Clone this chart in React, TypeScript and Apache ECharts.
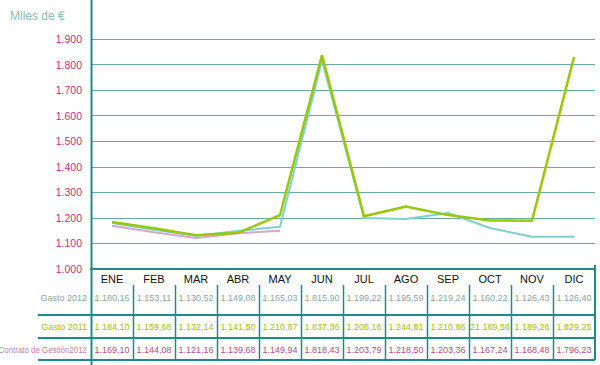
import React, { useEffect, useRef } from "react";
import * as echarts from "echarts";

const months = ["ENE", "FEB", "MAR", "ABR", "MAY", "JUN", "JUL", "AGO", "SEP", "OCT", "NOV", "DIC"];
const gasto2012 = [1180.16, 1153.11, 1130.52, 1149.08, 1165.03, 1815.9, 1199.22, 1195.59, 1219.24, 1160.22, 1126.43, 1126.4];
const gasto2011 = [1184.1, 1159.68, 1132.14, 1141.5, 1210.87, 1837.36, 1206.16, 1244.81, 1210.86, 1189.56, 1189.26, 1829.25];
const contrato2012 = [1169.1, 1144.08, 1121.16, 1139.68, 1149.94, 1818.43, 1203.79, 1218.5, 1203.36, 1167.24, 1168.48, 1796.23];
// the drawn contract line stops at MAY in the reference
const contratoPlottedMonths = 5;
// label overrides as printed in the reference table
const gasto2011LabelOverrides: Record<number, string> = { 9: "21.189,56" };
const rowNames = ["Gasto 2012", "Gasto 2011", "Contrato de Gestión2012"];
const yMin = 1000;
const yMax = 1900;
const yStep = 100;

const fmtNum = (v: number, dec: number) => {
  const s = v.toFixed(dec);
  const [i, d] = s.split(".");
  const int = i.replace(/\B(?=(\d{3})+(?!\d))/g, ".");
  return d ? int + "," + d : int;
};

export default function App() {
  const ref = useRef<HTMLDivElement>(null);
  useEffect(() => {
    if (!ref.current) return;
    const chart = echarts.init(ref.current, null, { renderer: "svg" });
    const W = 600;
    const left = 91;
    const right = 595;
    const colW = (right - left) / months.length;
    const axisCol = "#1f8a88";
    const gridCol = "#6ba8a6";
    const rowColors = ["#8aa6a4", "#a6c012", "#b0507e"];
    const labelColors = ["#8aa6a4", "#a6c012", "#c27fa6"];
    const rowY = [298, 327, 350];
    const rows = [
      gasto2012.map((v) => fmtNum(v, 2)),
      gasto2011.map((v, i) => gasto2011LabelOverrides[i] ?? fmtNum(v, 2)),
      contrato2012.map((v) => fmtNum(v, 2)),
    ];
    const font = "'Liberation Sans', Arial, sans-serif";
    const graphics: any[] = [];
    graphics.push({
      type: "text",
      left: 10,
      top: 10,
      style: { text: "Miles de €", fill: "#8fbcb5", font: "12px " + font },
    });
    // vertical axis line through the table
    graphics.push({ type: "line", shape: { x1: left + 0.5, y1: 0, x2: left + 0.5, y2: 365 }, style: { stroke: axisCol, lineWidth: 2 }, z: 10 });
    // right border of table
    graphics.push({ type: "line", shape: { x1: right, y1: 265, x2: right, y2: 360 }, style: { stroke: axisCol, lineWidth: 2 } });
    // horizontal table lines
    [315, 338, 360].forEach((y) => {
      graphics.push({ type: "line", shape: { x1: 38, y1: y, x2: right, y2: y }, style: { stroke: axisCol, lineWidth: 2 } });
    });
    // column separators
    for (let k = 1; k < months.length; k++) {
      const x = Math.round(left + colW * k) + 0.5;
      graphics.push({ type: "line", shape: { x1: x, y1: 285, x2: x, y2: 360 }, style: { stroke: axisCol, lineWidth: 1.5 } });
    }
    rowNames.forEach((name, r) => {
      graphics.push({
        type: "text",
        x: 87,
        y: rowY[r],
        scaleX: r === 2 ? 0.88 : 1,
        style: {
          text: name,
          fill: labelColors[r],
          align: "right",
          verticalAlign: "middle",
          font: "9px " + font,
        },
      });
      rows[r].forEach((t, i) => {
        graphics.push({
          type: "text",
          x: left + colW * (i + 0.5),
          y: rowY[r],
          style: {
            text: t,
            fill: rowColors[r],
            align: "center",
            verticalAlign: "middle",
            font: "9px " + font,
          },
        });
      });
    });

    chart.setOption({
      animation: false,
      grid: { left, right: W - right, top: 39, bottom: 365 - 269 },
      xAxis: {
        type: "category",
        data: months,
        boundaryGap: true,
        axisLine: { lineStyle: { color: axisCol, width: 2 } },
        axisTick: { show: false },
        axisLabel: { color: "#111", fontSize: 11, margin: 4, fontFamily: font },
      },
      yAxis: {
        type: "value",
        min: yMin,
        max: yMax,
        interval: yStep,
        axisLine: { show: false },
        axisTick: { show: false },
        splitLine: { lineStyle: { color: gridCol, width: 1 } },
        axisLabel: {
          color: "#c0308a",
          fontSize: 10.5,
          margin: 9,
          fontFamily: font,
          formatter: (v: number) => fmtNum(v, 0),
        },
      },
      series: [
        {
          name: rowNames[2],
          type: "line",
          data: contrato2012.map((v, i) => (i < contratoPlottedMonths ? v : null)),
          symbol: "none",
          lineStyle: { color: "#d6a6cc", width: 2 },
          z: 2,
        },
        {
          name: rowNames[0],
          type: "line",
          data: gasto2012,
          symbol: "none",
          lineStyle: { color: "#7ed0d0", width: 2 },
          z: 3,
        },
        {
          name: rowNames[1],
          type: "line",
          data: gasto2011,
          symbol: "none",
          lineStyle: { color: "#99c70a", width: 2.5 },
          z: 4,
        },
      ],
      graphic: graphics,
    });
    return () => chart.dispose();
  }, []);
  return <div ref={ref} style={{ position: "fixed", left: 0, top: 0, width: 600, height: 365, background: "#fff" }} />;
}
